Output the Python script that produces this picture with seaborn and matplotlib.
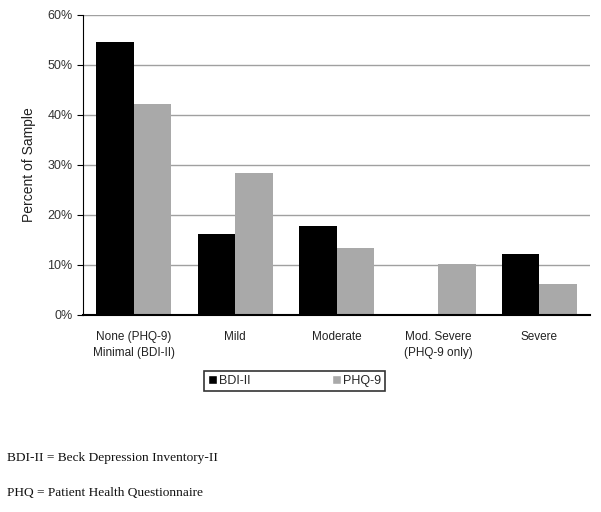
import pandas as pd
import numpy as np
import seaborn as sns
import matplotlib.pyplot as plt
from matplotlib.ticker import PercentFormatter
from matplotlib.patches import Patch

sns.set_style("white")
plt.rcParams['font.family'] = ['Liberation Sans', 'DejaVu Sans']

# data
categorias = ["None (PHQ-9)\nMinimal (BDI-II)", "Mild", "Moderate",
              "Mod. Severe\n(PHQ-9 only)", "Severe"]
bdi = [54.5, 16.1, 17.7, np.nan, 12.2]
phq = [42.1, 28.3, 13.3, 10.1, 6.1]

df = pd.DataFrame({"Categoria": categorias * 2,
                   "Valor": bdi + phq,
                   "Escala": ["BDI-II"] * 5 + ["PHQ-9"] * 5})

fig = plt.figure(figsize=(6.01, 5.12), dpi=100)
ax = fig.add_axes([0.138, 0.385, 0.844, 0.586])

sns.barplot(data=df, x="Categoria", y="Valor", hue="Escala",
            palette=["#000000", "#a9a9a9"], width=0.74, saturation=1,
            linewidth=0, ax=ax, legend=False)

ax.set_ylim(0, 60)
ax.set_yticks(np.arange(0, 61, 10))
ax.yaxis.set_major_formatter(PercentFormatter(decimals=0))
ax.grid(axis='y', color='#a0a0a0', linewidth=1)
ax.set_axisbelow(True)
for s in ['top', 'right']:
    ax.spines[s].set_visible(False)
ax.spines['left'].set_color('black')
ax.spines['bottom'].set_color('black')
ax.spines['bottom'].set_linewidth(1.5)
ax.tick_params(axis='y', left=True, length=4, color='black', labelsize=9, labelcolor='#333333')
ax.tick_params(axis='x', bottom=False, labelsize=8.5, labelcolor='#222222', pad=8)
for t in ax.get_xticklabels():
    t.set_linespacing(1.45)
ax.set_xlabel("")
ax.set_ylabel("Percent of Sample", fontsize=10, color='#222222', labelpad=8)

# leyenda
handles = [Patch(facecolor='#000000', label='BDI-II'),
           Patch(facecolor='#a9a9a9', label='PHQ-9')]
leg = fig.legend(handles=handles, loc='center', bbox_to_anchor=(0.49, 0.256),
                 ncol=2, fontsize=9, frameon=True, fancybox=False,
                 edgecolor='black', handlelength=0.7, handleheight=0.7,
                 handletextpad=0.2, columnspacing=6.5, borderpad=0.3,
                 borderaxespad=0)
leg.get_frame().set_linewidth(1.2)

fig.text(0.012, 0.100, "BDI-II = Beck Depression Inventory-II",
         family='Liberation Serif', fontsize=9.6, color='#111111')
fig.text(0.012, 0.032, "PHQ = Patient Health Questionnaire",
         family='Liberation Serif', fontsize=9.6, color='#111111')

fig.savefig('out.png', dpi=100)
